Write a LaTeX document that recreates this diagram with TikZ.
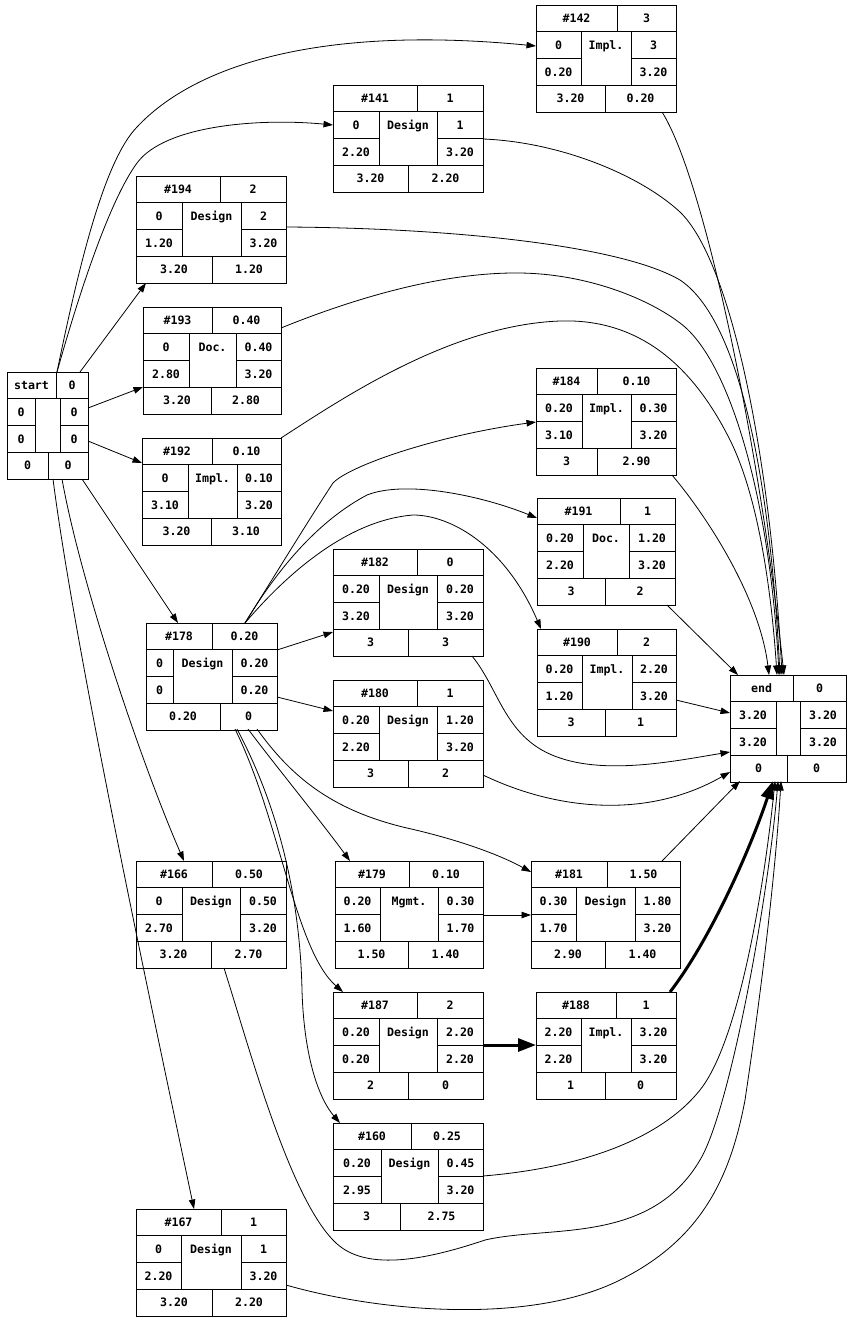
\documentclass[tikz,border=0pt]{standalone}
\usepackage{fontspec}
\newfontfamily\recfont{DejaVu Sans Mono}
\usetikzlibrary{arrows.meta}
\def\recgeo#1/#2/#3/#4/#5/#6/#7\relax{\def\rxa{#1}\def\rya{#2}\def\rxb{#3}\def\rts{#4}\def\rlc{#5}\def\rrc{#6}\def\rbs{#7}}
\def\recpair#1/#2\relax{\def\rpa{#1}\def\rpb{#2}}
\newcommand\recnode[7]{%
  \recgeo#2\relax
  \pgfmathsetmacro\rw{\rxb-\rxa}%
  \node[recbox, minimum width=\rw pt, anchor=north west] (#1) at (\rxa,\rya) {};
  \draw[recline] (\rts,\rya) -- (\rts,\rya+26.75);
  \draw[recline] (\rxa,\rya+26.75) -- (\rxb,\rya+26.75);
  \draw[recline] (\rlc,\rya+26.75) -- (\rlc,\rya+80.25);
  \draw[recline] (\rrc,\rya+26.75) -- (\rrc,\rya+80.25);
  \draw[recline] (\rxa,\rya+53.5) -- (\rlc,\rya+53.5);
  \draw[recline] (\rrc,\rya+53.5) -- (\rxb,\rya+53.5);
  \draw[recline] (\rxa,\rya+80.25) -- (\rxb,\rya+80.25);
  \draw[recline] (\rbs,\rya+80.25) -- (\rbs,\rya+107);
  \recpair#3\relax
  \node[rectxt] at ({(\rxa+\rts)/2},\rya+17.6) {\rpa};
  \node[rectxt] at ({(\rts+\rxb)/2},\rya+17.6) {\rpb};
  \node[rectxt] at ({(\rlc+\rrc)/2},\rya+44.3) {#4};
  \recpair#5\relax
  \node[rectxt] at ({(\rxa+\rlc)/2},\rya+44.3) {\rpa};
  \node[rectxt] at ({(\rrc+\rxb)/2},\rya+44.3) {\rpb};
  \recpair#6\relax
  \node[rectxt] at ({(\rxa+\rlc)/2},\rya+71.1) {\rpa};
  \node[rectxt] at ({(\rrc+\rxb)/2},\rya+71.1) {\rpb};
  \recpair#7\relax
  \node[rectxt] at ({(\rxa+\rbs)/2},\rya+97.8) {\rpa};
  \node[rectxt] at ({(\rbs+\rxb)/2},\rya+97.8) {\rpb};
}
\begin{document}
\begin{tikzpicture}[x=1pt,y=-1pt,
  recbox/.style={draw, line width=1pt, inner sep=0pt, outer sep=0pt, minimum height=107pt},
  recline/.style={line width=1pt},
  rectxt/.style={font=\recfont\bfseries\fontsize{11.6}{11.6}\selectfont, inner sep=0pt, anchor=base},
  edge/.style={line width=0.8pt, -{Triangle[length=9.5pt,width=6.5pt]}},
  critedge/.style={line width=3pt, -{Triangle[length=18pt,width=13pt]}}]
\useasboundingbox[fill=white] (0,0) rectangle (851,1333);

\recnode{nstart}{7/372/88/56/35/60/48}{start/0}{}{0/0}{0/0}{0/0}
\recnode{n142}{536/5/676/617/581/631/605}{\#142/3}{Impl.}{0/3}{0.20/3.20}{3.20/0.20}
\recnode{n141}{333/85/483/417/379/437/408}{\#141/1}{Design}{0/1}{2.20/3.20}{3.20/2.20}
\recnode{n194}{136/176/286/220/182/241/212}{\#194/2}{Design}{0/2}{1.20/3.20}{3.20/1.20}
\recnode{n193}{143/307/281/212/189/236/211}{\#193/0.40}{Doc.}{0/0.40}{2.80/3.20}{3.20/2.80}
\recnode{n192}{142/438/281/212/188/237/211}{\#192/0.10}{Impl.}{0/0.10}{3.10/3.20}{3.20/3.10}
\recnode{n184}{536/368/676/597/582/631/597}{\#184/0.10}{Impl.}{0.20/0.30}{3.10/3.20}{3/2.90}
\recnode{n191}{537/498/675/620/583/629/605}{\#191/1}{Doc.}{0.20/1.20}{2.20/3.20}{3/2}
\recnode{n182}{333/549/483/417/379/437/408}{\#182/0}{Design}{0.20/0.20}{3.20/3.20}{3/3}
\recnode{n190}{537/629/676/617/582/632/605}{\#190/2}{Impl.}{0.20/2.20}{1.20/3.20}{3/1}
\recnode{nend}{730/675/846/793/776/800/787}{end/0}{}{3.20/3.20}{3.20/3.20}{0/0}
\recnode{n178}{146/623/277/212/173/232/220}{\#178/0.20}{Design}{0/0.20}{0/0.20}{0.20/0}
\recnode{n180}{333/680/483/417/379/437/408}{\#180/1}{Design}{0.20/1.20}{2.20/3.20}{3/2}
\recnode{n166}{136/861/286/212/182/240/211}{\#166/0.50}{Design}{0/0.50}{2.70/3.20}{3.20/2.70}
\recnode{n179}{335/861/483/409/380/438/408}{\#179/0.10}{Mgmt.}{0.20/0.30}{1.60/1.70}{1.50/1.40}
\recnode{n181}{531/861/680/607/576/635/605}{\#181/1.50}{Design}{0.30/1.80}{1.70/3.20}{2.90/1.40}
\recnode{n187}{333/992/483/417/379/437/408}{\#187/2}{Design}{0.20/2.20}{0.20/2.20}{2/0}
\recnode{n188}{536/992/676/616/581/631/605}{\#188/1}{Impl.}{2.20/3.20}{2.20/3.20}{1/0}
\recnode{n160}{333/1123/483/411/381/438/400}{\#160/0.25}{Design}{0.20/0.45}{2.95/3.20}{3/2.75}
\recnode{n167}{136/1209/286/221/181/241/212}{\#167/1}{Design}{0/1}{2.20/3.20}{3.20/2.20}

% edges from start
\draw[edge] ([shift={(50,0)}]nstart.north west) .. controls (80,260) and (105,160) .. (137,127) .. controls (195,65) and (320,25) .. ([shift={(0,41)}]n142.north west);
\draw[edge] ([shift={(50,0)}]nstart.north west) .. controls (80,290) and (110,200) .. (137,163) .. controls (165,125) and (260,118) .. ([shift={(0,40)}]n141.north west);
\draw[edge] ([shift={(73,0)}]nstart.north west) -- ([shift={(10,107)}]n194.north west);
\draw[edge] ([shift={(81,36)}]nstart.north west) -- ([shift={(0,80)}]n193.north west);
\draw[edge] ([shift={(81,69)}]nstart.north west) -- ([shift={(0,25)}]n192.north west);
\draw[edge] ([shift={(75,107)}]nstart.north west) -- ([shift={(32,0)}]n178.north west);
\draw[edge] ([shift={(55,107)}]nstart.north west) .. controls (80,580) and (140,760) .. ([shift={(48,0)}]n166.north west);
\draw[edge] ([shift={(46,107)}]nstart.north west) .. controls (75,650) and (150,1000) .. ([shift={(58,0)}]n167.north west);

% edges from 178
\draw[edge] ([shift={(99,0)}]n178.north west) .. controls (275,575) and (315,510) .. (333,483) .. controls (350,465) and (440,435) .. ([shift={(0,54)}]n184.north west);
\draw[edge] ([shift={(99,0)}]n178.north west) .. controls (280,565) and (320,520) .. (367,495) .. controls (405,480) and (480,495) .. ([shift={(0,20)}]n191.north west);
\draw[edge] ([shift={(99,0)}]n178.north west) .. controls (290,570) and (350,520) .. (413,515) .. controls (450,515) and (505,545) .. ([shift={(4,0)}]n190.north west);
\draw[edge] ([shift={(131,27)}]n178.north west) -- ([shift={(0,83)}]n182.north west);
\draw[edge] ([shift={(131,74)}]n178.north west) -- ([shift={(0,31)}]n180.north west);
\draw[edge] ([shift={(102,106)}]n178.north west) .. controls (275,765) and (320,820) .. ([shift={(15,0)}]n179.north west);
\draw[edge] ([shift={(111,106)}]n178.north west) .. controls (290,775) and (330,810) .. (407,828) .. controls (460,840) and (500,855) .. ([shift={(0,11)}]n181.north west);
\draw[edge] ([shift={(89,106)}]n178.north west) .. controls (280,820) and (295,950) .. ([shift={(10,0)}]n187.north west);
\draw[edge] ([shift={(91,106)}]n178.north west) .. controls (280,810) and (300,900) .. (302,990) .. controls (304,1060) and (320,1100) .. ([shift={(7,0)}]n160.north west);

% middle edges
\draw[edge] ([shift={(148,54)}]n179.north west) -- ([shift={(0,54)}]n181.north west);
\draw[critedge] ([shift={(150,53)}]n187.north west) -- ([shift={(0,53)}]n188.north west);
\draw[critedge] ([shift={(134,0)}]n188.north west) .. controls (710,940) and (750,850) .. ([shift={(43,106)}]nend.north west);

% edges to end
\draw[edge] ([shift={(126,107)}]n142.north west) .. controls (705,180) and (760,450) .. ([shift={(54,0)}]nend.north west);
\draw[edge] ([shift={(150,54)}]n141.north west) .. controls (560,142) and (640,175) .. (680,212) .. controls (730,260) and (770,450) .. ([shift={(52,0)}]nend.north west);
\draw[edge] ([shift={(150,51)}]n194.north west) .. controls (450,228) and (620,245) .. (680,280) .. controls (740,320) and (770,480) .. ([shift={(50,0)}]nend.north west);
\draw[edge] ([shift={(138,21)}]n193.north west) .. controls (350,300) and (440,272) .. (520,273) .. controls (590,274) and (650,300) .. (680,323) .. controls (730,360) and (770,500) .. ([shift={(49,0)}]nend.north west);
\draw[edge] ([shift={(139,0)}]n192.north west) .. controls (340,400) and (450,325) .. (560,321) .. controls (650,318) and (700,380) .. (730,440) .. controls (760,500) and (772,600) .. ([shift={(47,0)}]nend.north west);
\draw[edge] ([shift={(136,107)}]n184.north west) .. controls (710,520) and (760,600) .. ([shift={(39,0)}]nend.north west);
\draw[edge] ([shift={(130,107)}]n191.north west) -- ([shift={(8,0)}]nend.north west);
\draw[edge] ([shift={(139,71)}]n190.north west) -- ([shift={(0,38)}]nend.north west);
\draw[edge] ([shift={(139,107)}]n182.north west) .. controls (500,690) and (505,740) .. (560,758) .. controls (610,775) and (680,760) .. ([shift={(0,77)}]nend.north west);
\draw[edge] ([shift={(150,95)}]n180.north west) .. controls (560,812) and (650,818) .. ([shift={(0,97)}]nend.north west);
\draw[edge] ([shift={(131,0)}]n181.north west) -- ([shift={(10,106)}]nend.north west);
\draw[edge] ([shift={(88,107)}]n166.north west) .. controls (250,1050) and (290,1200) .. (336,1243) .. controls (365,1270) and (420,1262) .. (485,1240) .. controls (550,1225) and (650,1245) .. (700,1160) .. controls (730,1110) and (768,900) .. ([shift={(48,106)}]nend.north west);
\draw[edge] ([shift={(150,53)}]n160.north west) .. controls (580,1168) and (660,1140) .. (700,1090) .. controls (740,1040) and (765,880) .. ([shift={(45,106)}]nend.north west);
\draw[edge] ([shift={(150,76)}]n167.north west) .. controls (380,1312) and (530,1325) .. (620,1280) .. controls (700,1240) and (730,1180) .. (745,1100) .. controls (760,1000) and (775,880) .. ([shift={(51,106)}]nend.north west);
\end{tikzpicture}
\end{document}
